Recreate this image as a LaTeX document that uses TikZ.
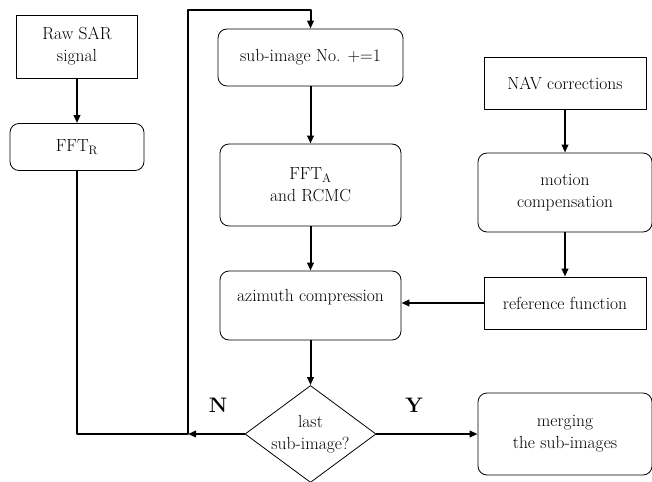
\documentclass[tikz,border=0pt]{standalone}
\usetikzlibrary{arrows.meta,shapes.geometric}
\tikzset{
  every picture/.style={line join=round, >={Triangle[length=8pt,width=6.5pt]}},
  every node/.style={font=\fontsize{17.5}{22}\selectfont},
  plain/.style={draw, line width=0.8pt, align=center, inner sep=0pt},
  rbox/.style={plain, rounded corners=9pt},
  decision/.style={draw, diamond, aspect=1.35, line width=0.8pt, align=center, inner sep=0pt,
    minimum width=131pt, minimum height=97pt},
  flow/.style={->, line width=2pt},
  answer/.style={font=\fontsize{21}{24}\selectfont\bfseries},
}

\begin{document}
\begin{tikzpicture}[x=1pt,y=-1pt]
\useasboundingbox (0,0) rectangle (652,481);
% left column
\node[plain, minimum width=121pt, minimum height=63pt] (raw) at (77,46.5) {Raw SAR\\signal};
\node[rbox, minimum width=134pt, minimum height=47pt] (fftr) at (77,147) {FFT\textsubscript{R}};
% middle column
\node[rbox, minimum width=185pt, minimum height=57pt] (sub) at (310.5,57.5) {sub-image No. +=1};
\node[rbox, minimum width=181pt, minimum height=82pt] (ffta) at (310.5,185) {FFT\textsubscript{A}\\and RCMC};
\node[rbox, minimum width=181pt, minimum height=69pt, text depth=20pt] (azi) at (310.5,305.5) {azimuth compression};
\node[decision] (last) at (310.5,434) {last\\sub-image?};
% right column
\node[plain, minimum width=162pt, minimum height=52pt] (nav) at (565,83) {NAV corrections};
\node[rbox, minimum width=174pt, minimum height=79pt] (motion) at (565,192.5) {motion\\compensation};
\node[plain, minimum width=162pt, minimum height=52pt] (ref) at (565,303) {reference function};
\node[rbox, minimum width=174pt, minimum height=82pt] (merge) at (565,434) {merging\\the sub-images};
% answers
\node[answer] (no) at (218,405) {N};
\node[answer] (yes) at (414,405) {Y};
% loop corners
\coordinate (bl) at (188,434);
\coordinate (tl) at (188,10);

\draw[flow] (raw) -- (fftr);
\draw[flow] (fftr.south) |- (bl) -- (tl) -| (sub.north);
\draw[flow] (sub) -- (ffta);
\draw[flow] (ffta) -- (azi);
\draw[flow] (azi) -- (last);
\draw[flow] (nav) -- (motion);
\draw[flow] (motion) -- (ref);
\draw[flow] (ref.west) -- (ref.west -| azi.east);
\draw[flow] (last.west) -- (bl);
\draw[flow] (last.east) -- (merge.west);
\end{tikzpicture}
\end{document}
